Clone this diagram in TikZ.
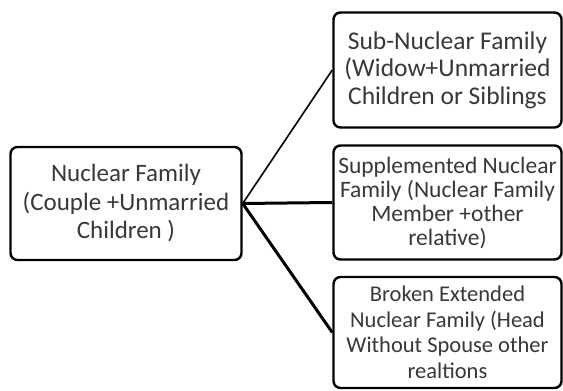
\documentclass[tikz,border=0pt]{standalone}
\usepackage{fontspec}
\setmainfont{Carlito}
\begin{document}
\begin{tikzpicture}[x=1pt,y=1pt,
  famBox/.style={draw=black,line width=2.4pt,rounded corners=7pt,fill=white,
    align=center,text=black!78,inner sep=2pt},
  thinLink/.style={line width=1.6pt},
  thickLink/.style={line width=3pt}]
\useasboundingbox (0,0) rectangle (563,391);
%
\node[famBox,minimum width=231pt,minimum height=113pt,font=\fontsize{25}{28.5}\selectfont] (nuclear) at (126,187.5)
  {Nuclear Family\\(Couple +Unmarried\\Children )};
%
\node[famBox,minimum width=228pt,minimum height=115pt,font=\fontsize{25.5}{27.5}\selectfont] (sub) at (447.5,321)
  {Sub-Nuclear Family\\(Widow+Unmarried\\Children or Siblings};
\node[famBox,minimum width=228pt,minimum height=114pt,font=\fontsize{23.5}{24}\selectfont] (supp) at (447.5,188.5)
  {Supplemented Nuclear\\Family (Nuclear Family\\Member +other\\relative)};
\node[famBox,minimum width=228pt,minimum height=111pt,font=\fontsize{22.5}{25.5}\selectfont] (broken) at (447.5,58.5)
  {Broken Extended\\Nuclear Family (Head\\Without Spouse other\\realtions};
%
\draw[thinLink] (nuclear.east) -- (sub.west);
\draw[thickLink] (nuclear.east) -- (supp.west);
\draw[thickLink] (nuclear.east) -- (broken.west);
\end{tikzpicture}
\end{document}
